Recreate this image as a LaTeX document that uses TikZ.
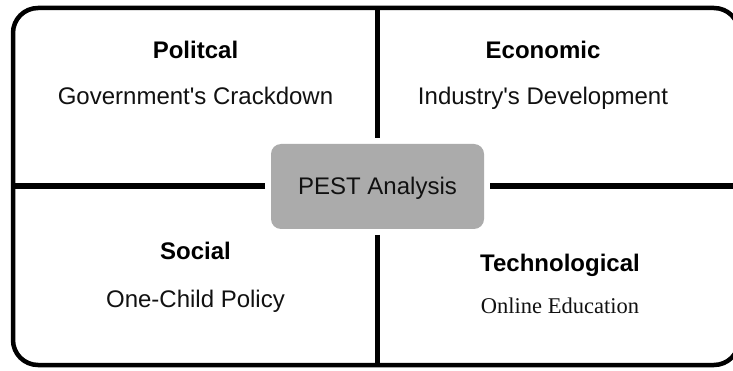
\documentclass[tikz,border=0pt]{standalone}
\usepackage{fontspec}
\setmainfont{Liberation Sans}
\newfontfamily\bodyserif{Liberation Serif}
\definecolor{boxgray}{HTML}{ABABAB}
\definecolor{ink}{HTML}{111111}
\begin{document}
\begin{tikzpicture}[x=1pt,y=-1pt,
  frame/.style={draw=black, line width=4.5pt, rounded corners=25pt},
  divider/.style={draw=black, line width=5.5pt},
  centerbox/.style={fill=boxgray, rounded corners=10pt, minimum width=213pt,
    minimum height=85pt, inner sep=0pt, outer sep=6pt, text=ink,
    text height=17pt, text depth=0pt, font=\fontsize{24}{28}\selectfont},
  heading/.style={anchor=base, inner sep=0pt, text=black,
    font=\fontsize{24}{28}\selectfont\bfseries},
  detail/.style={anchor=base, inner sep=0pt, text=ink,
    font=\fontsize{24}{28}\selectfont},
  serifdetail/.style={anchor=base, inner sep=0pt, text=ink,
    font=\fontsize{22.5}{26}\selectfont\bodyserif}]
  \useasboundingbox (0,0) rectangle (733,371);
  \clip (0,0) rectangle (733,371);
  \fill[white] (0,0) rectangle (733,371);

  % outer frame
  \draw[frame] (13,8) rectangle (739,365);

  % centre box and the dividing lines
  \node[centerbox] (pest) at (377.5,186.5) {PEST Analysis};
  \coordinate (ttop) at (377.5,8);
  \coordinate (tbottom) at (377.5,365);
  \coordinate (tleft) at (13,186);
  \coordinate (tright) at (739,186);
  \draw[divider] (pest.north) -- (ttop);
  \draw[divider] (pest.south) -- (tbottom);
  \draw[divider] (pest.west |- tleft) -- (tleft);
  \draw[divider] (pest.east |- tright) -- (tright);

  % quadrant texts
  \node[heading] (pol) at (195.5,59) {Politcal};
  \node[detail] (poltext) at (195.5,105) {Government\textquotesingle s Crackdown};
  \node[heading] (eco) at (543,59) {Economic};
  \node[detail] (ecotext) at (543,105) {Industry\textquotesingle s Development};
  \node[heading] (soc) at (195.5,259) {Social};
  \node[detail] (soctext) at (195.5,307) {One-Child Policy};
  \node[heading] (tec) at (560,272) {Technological};
  \node[serifdetail] (tectext) at (560,313) {Online Education};
\end{tikzpicture}
\end{document}
